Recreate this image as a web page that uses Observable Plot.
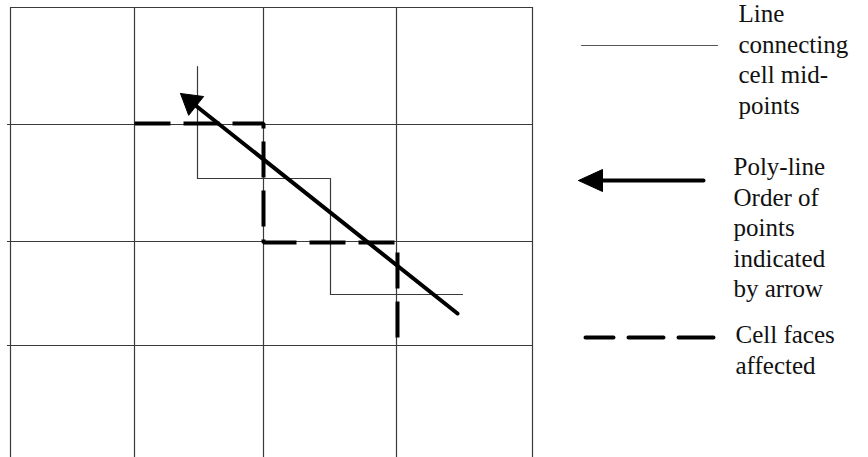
<!DOCTYPE html>
<html>
<head>
<meta charset="utf-8">
<script src="https://cdn.jsdelivr.net/npm/d3@7"></script>
<script src="https://cdn.jsdelivr.net/npm/@observablehq/plot@0.6"></script>
<style>
  html, body { margin: 0; padding: 0; background: #fff; }
  #chart svg { display: block; }
  #chart svg text { font-family: "Liberation Serif", "Times New Roman", "DejaVu Serif", serif; }
</style>
</head>
<body>
<div id="chart"></div>
<script>
// Diagram coordinates (in picture units)
const gridX = [10, 134, 263, 396, 532];          // vertical grid lines
const gridY = [7, 124, 241, 345];                // horizontal grid lines
const gridTop = 7, gridBottom = 457, gridLeft = 7, gridRight = 533;

// Line connecting cell mid-points
const midX = [197, 197, 330, 330, 462];
const midY = [66, 178, 178, 294, 294];

// Cell faces affected (dashed)
const faceX = [134, 263, 263, 397, 397];
const faceY = [123, 123, 242, 242, 346];

// Poly-line (arrow) from start to tip
const polyX = [457, 180];
const polyY = [313, 93];

// Legend
const legendLabels = [
  "Line\nconnecting\ncell mid-\npoints",
  "Poly-line\nOrder of\npoints\nindicated\nby arrow",
  "Cell faces\naffected"
];
const legendTextX = [738, 733, 735];
const legendTextY = [22, 175, 343];           // first-line baselines
const legendThinX = [581, 717], legendThinY = [45, 45];
const legendArrowX = [703, 578], legendArrowY = [180, 180];
const legendDashX = [585, 713], legendDashY = [337, 337];

function pts(xs, ys) { return xs.map((x, i) => ({x, y: ys[i]})); }

function arrowParts(xs, ys, L, Wd) {
  const [x1, x2] = xs, [y1, y2] = ys;
  const dx = x1 - x2, dy = y1 - y2, d = Math.hypot(dx, dy);
  const ux = dx / d, uy = dy / d, nx = -uy, ny = ux;
  const head = [
    {x: x2, y: y2},
    {x: x2 + L * ux + Wd / 2 * nx, y: y2 + L * uy + Wd / 2 * ny},
    {x: x2 + L * ux - Wd / 2 * nx, y: y2 + L * uy - Wd / 2 * ny},
    {x: x2, y: y2}
  ];
  const shaft = [{x: x1, y: y1}, {x: x2 + L * 0.8 * ux, y: y2 + L * 0.8 * uy}];
  return {head, shaft};
}

const mainArrow = arrowParts(polyX, polyY, 20, 24);
const legArrow = arrowParts(legendArrowX, legendArrowY, 24, 22);

const fontSize = 25;
const lineHeightEm = 30.5 / fontSize;
const legendText = legendLabels.map((t, i) => ({
  text: t, x: legendTextX[i], y: legendTextY[i]
}));

const chart = Plot.plot({
  width: 868,
  height: 457,
  margin: 0,
  x: {domain: [0, 868], range: [0, 868], axis: null},
  y: {domain: [0, 457], range: [0, 457], axis: null},
  style: {background: "#fff"},
  marks: [
    Plot.ruleX(gridX, {y1: gridTop, y2: gridBottom, stroke: "#3a3a3a", strokeWidth: 1.2}),
    Plot.ruleY(gridY.slice(1), {x1: gridLeft, x2: gridRight, stroke: "#3a3a3a", strokeWidth: 1.2}),
    Plot.ruleY(gridY.slice(0, 1), {x1: gridX[0], x2: gridX[gridX.length - 1], stroke: "#3a3a3a", strokeWidth: 1.2}),
    Plot.line(pts(midX, midY), {x: "x", y: "y", stroke: "#3a3a3a", strokeWidth: 1.2}),
    Plot.line(pts(faceX, faceY), {x: "x", y: "y", stroke: "#000", strokeWidth: 4, strokeDasharray: "36,13", strokeLinejoin: "miter", strokeLinecap: "butt"}),
    Plot.line(mainArrow.shaft, {x: "x", y: "y", stroke: "#000", strokeWidth: 4}),
    Plot.line(mainArrow.head, {x: "x", y: "y", fill: "#000", stroke: "#000", strokeWidth: 1}),
    // legend samples
    Plot.line(pts(legendThinX, legendThinY), {x: "x", y: "y", stroke: "#555", strokeWidth: 1.2}),
    Plot.line(legArrow.shaft, {x: "x", y: "y", stroke: "#000", strokeWidth: 4}),
    Plot.line(legArrow.head, {x: "x", y: "y", fill: "#000", stroke: "#000", strokeWidth: 1}),
    Plot.line(pts(legendDashX, legendDashY), {x: "x", y: "y", stroke: "#000", strokeWidth: 4, strokeDasharray: "35,15", strokeDashoffset: 7}),
    Plot.text(legendText, {
      x: "x", y: "y", text: "text",
      textAnchor: "start", lineAnchor: "top", dy: -0.71 * fontSize - 4,
      lineHeight: lineHeightEm, fontSize: fontSize, fill: "#111",
      fontFamily: "Liberation Serif"
    })
  ]
});
document.getElementById("chart").append(chart);
</script>
</body>
</html>
